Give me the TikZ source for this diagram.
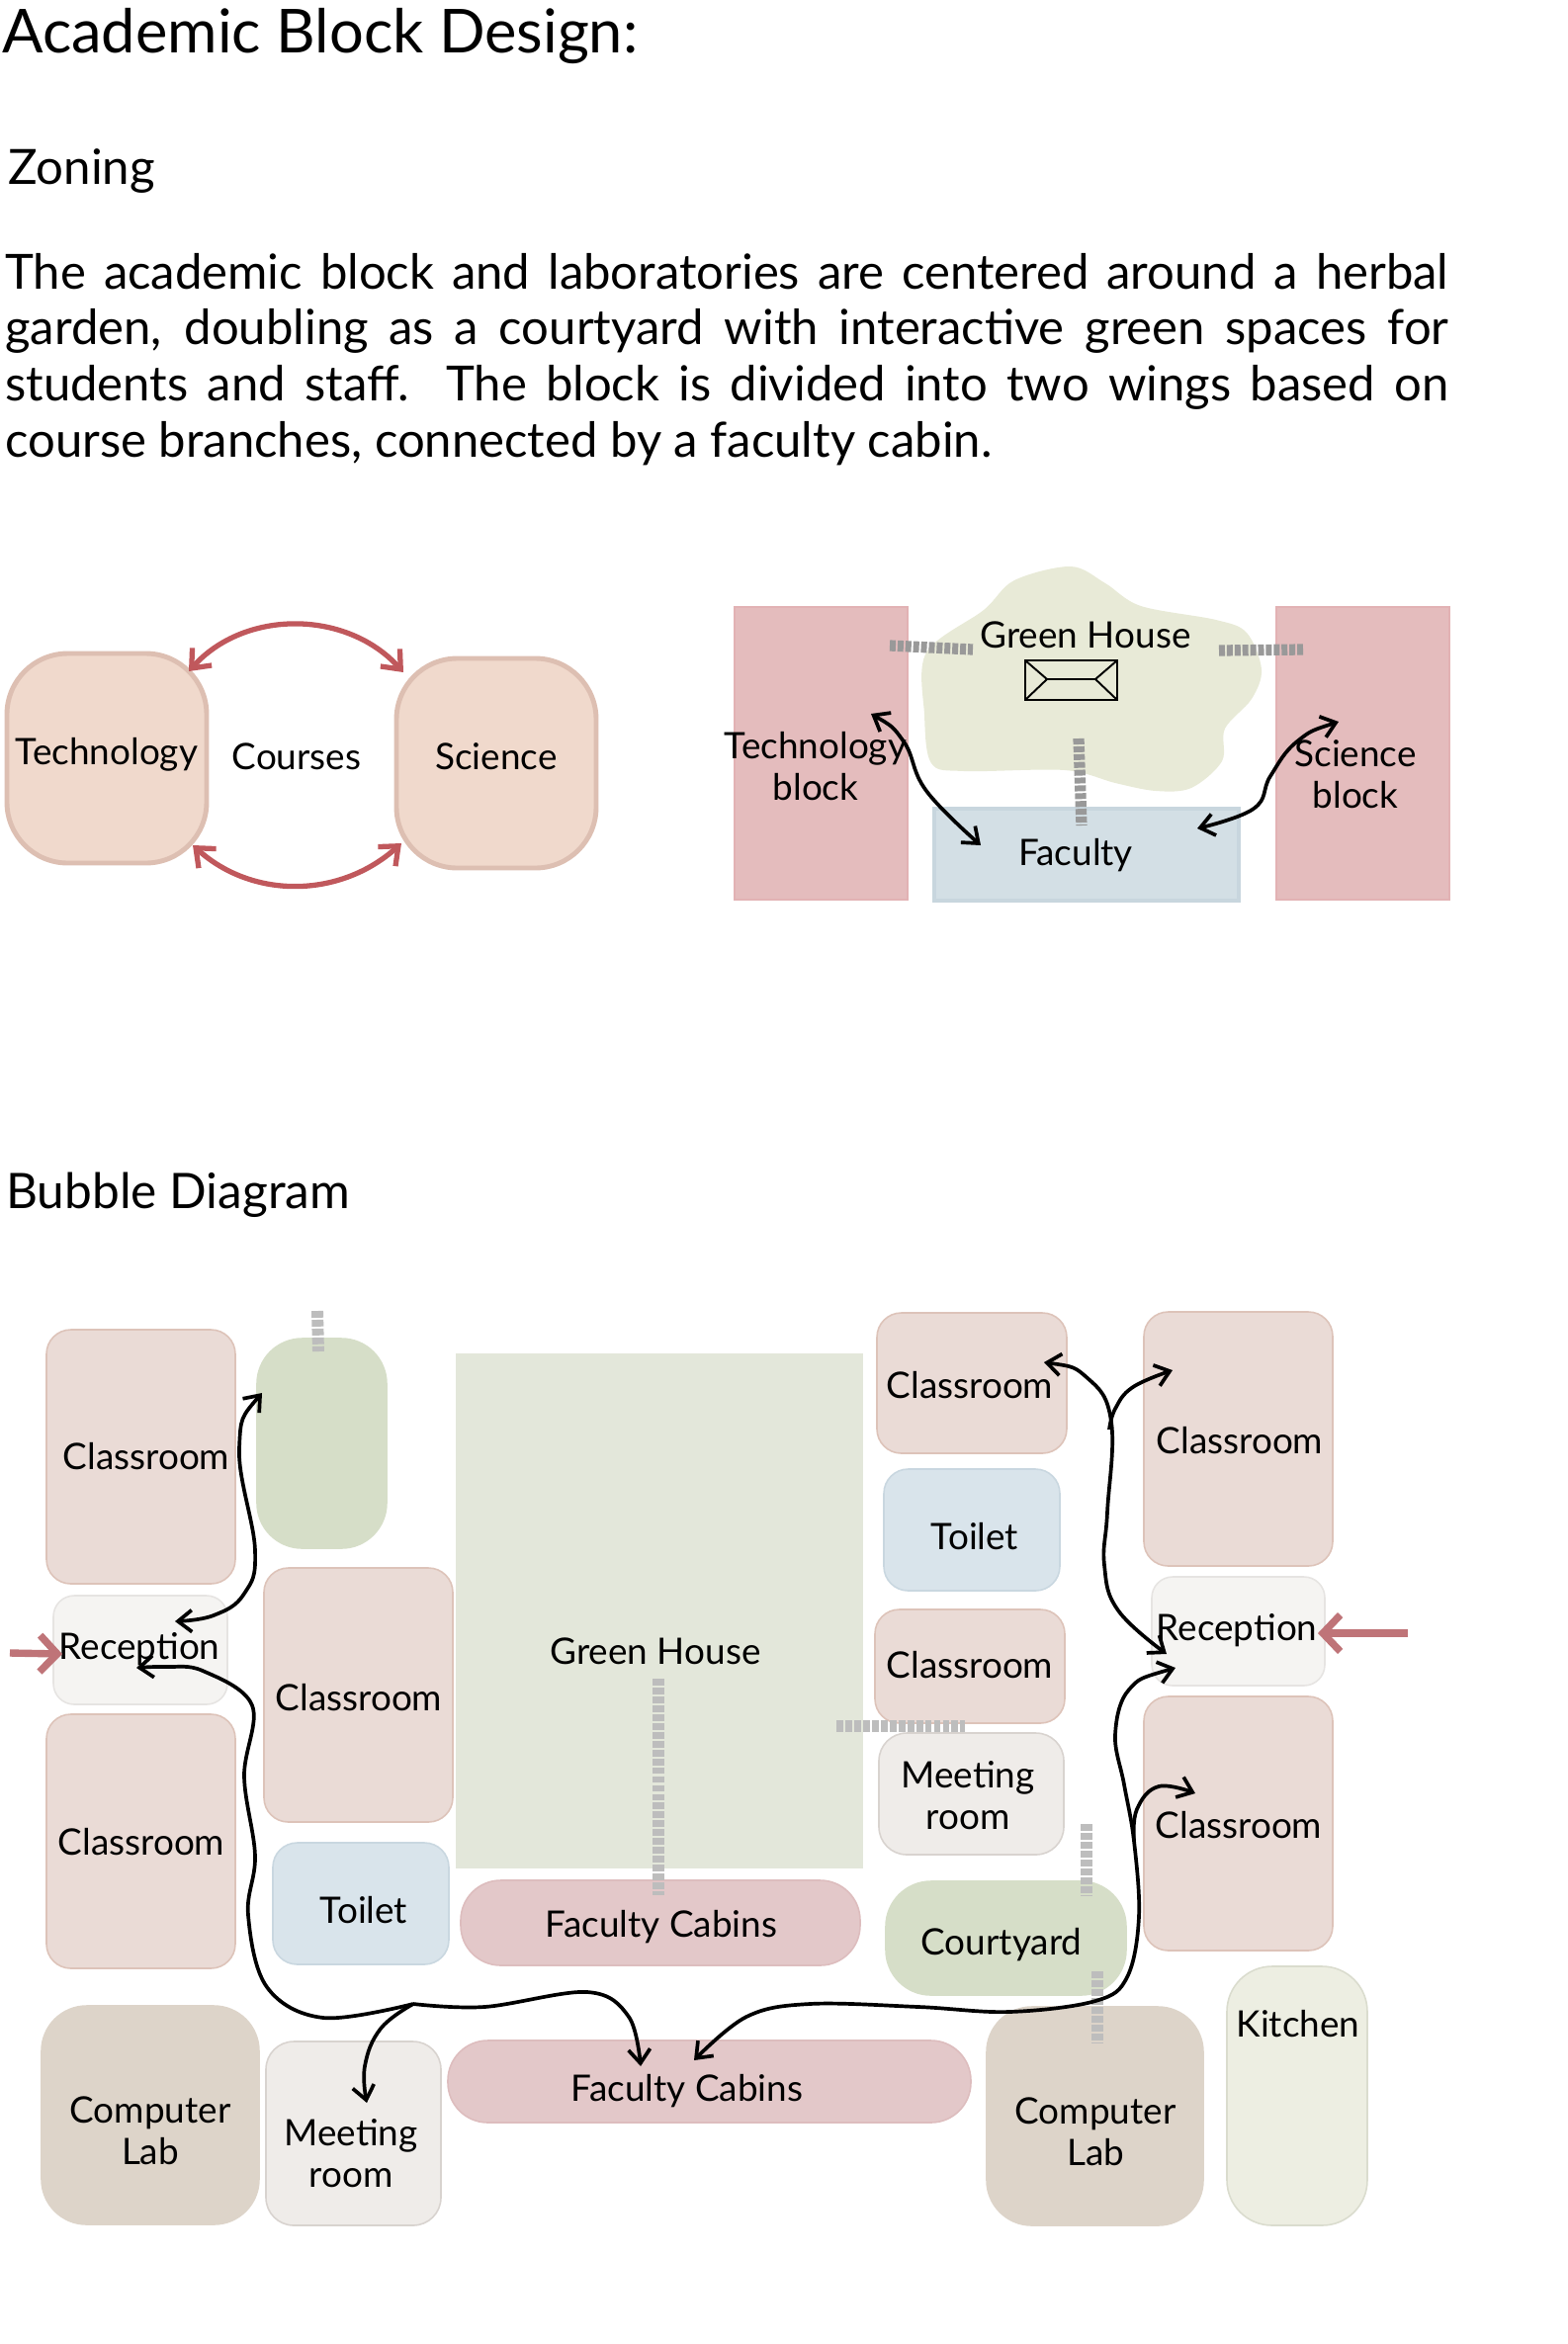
\documentclass[tikz,border=0pt]{standalone}
\usepackage{fontspec}
\setmainfont{Lato}
\usetikzlibrary{arrows.meta}
\definecolor{classfill}{HTML}{EADBD6}
\definecolor{classline}{HTML}{DDC3B9}
\definecolor{wingfill}{HTML}{F0D9CC}
\definecolor{wingline}{HTML}{DDBFB2}
\definecolor{blockfill}{HTML}{E4BCBD}
\definecolor{blockline}{HTML}{E2B2B4}
\definecolor{facfill}{HTML}{D3DFE5}
\definecolor{facline}{HTML}{C8D6DE}
\definecolor{toiletfill}{HTML}{D9E4EB}
\definecolor{toiletline}{HTML}{C9D7E0}
\definecolor{cabinfill}{HTML}{E3C8C9}
\definecolor{cabinline}{HTML}{DDBDBE}
\definecolor{labfill}{HTML}{DDD4C9}
\definecolor{meetfill}{HTML}{EFECE9}
\definecolor{meetline}{HTML}{D8D3CF}
\definecolor{kitchenfill}{HTML}{EDEEE2}
\definecolor{kitchenline}{HTML}{DADCCE}
\definecolor{recfill}{HTML}{F5F4F2}
\definecolor{recline}{HTML}{E6E4E2}
\definecolor{courtfill}{HTML}{D6DEC8}
\definecolor{housefill}{HTML}{E3E7DA}
\definecolor{blobfill}{HTML}{E8EAD7}
\definecolor{arcred}{HTML}{C0585C}
\definecolor{entryred}{HTML}{BF7478}
\tikzset{
  roombox/.style={inner sep=0pt,outer sep=0pt,line width=0.9pt},
  classbox/.style={roombox,fill=classfill,draw=classline,rounded corners=14pt},
  wingbox/.style={roombox,fill=wingfill,draw=wingline,line width=2.8pt,rounded corners=35pt},
  blockbox/.style={roombox,fill=blockfill,draw=blockline,line width=1.6pt},
  facbox/.style={roombox,fill=facfill,draw=facline,line width=2.4pt},
  toiletbox/.style={roombox,fill=toiletfill,draw=toiletline,rounded corners=14pt},
  cabinbox/.style={roombox,fill=cabinfill,draw=cabinline,rounded corners=23pt},
  labbox/.style={roombox,fill=labfill,draw=labfill,rounded corners=26pt},
  meetbox/.style={roombox,fill=meetfill,draw=meetline,rounded corners=16pt},
  kitchenbox/.style={roombox,fill=kitchenfill,draw=kitchenline,rounded corners=26pt},
  recbox/.style={roombox,fill=recfill,draw=recline,rounded corners=12pt},
  courtbox/.style={roombox,fill=courtfill,draw=courtfill,rounded corners=26pt},
  housebox/.style={roombox,fill=housefill,draw=housefill},
  roomtext/.style={font=\fontsize{21}{24}\selectfont,align=center,inner sep=0pt},
  headtext/.style={anchor=base west,inner sep=0pt},
  walkdark/.style={draw=black!40,line width=6.4pt,dash pattern=on 3.4pt off 1.1pt},
  walklight/.style={draw=black!26,line width=6.8pt,dash pattern=on 3.9pt off 1.2pt},
  wire/.style={line width=2.1pt,-{Straight Barb[length=8pt,width=12.5pt]}},
  wireboth/.style={line width=2.1pt,{Straight Barb[length=8pt,width=12.5pt]}-{Straight Barb[length=8pt,width=12.5pt]}},
  arcline/.style={draw=arcred,line width=3pt,{Straight Barb[length=9pt,width=15pt]}-{Straight Barb[length=9pt,width=15pt]}},
  entry/.style={draw=entryred,line width=4.2pt,-{Straight Barb[length=10pt,width=21pt]}}
}
\newcommand{\room}[9]{\node[#1,minimum width={(#5-#3)*0.02cm},minimum height={(#6-#4)*0.02cm}] (#2) at ({(#3+#5)/2},{(#4+#6)/2}) {};\node[roomtext] (#2txt) at (#7,#8) {#9};}
\newcommand{\link}[6]{\coordinate (#2a) at (#3,#4);\coordinate (#2b) at (#5,#6);\draw[#1] (#2a)--(#2b);}
\begin{document}
\begin{tikzpicture}[x=0.02cm,y=-0.02cm]
  \useasboundingbox (0,0) rectangle (1586,2371);
  \node[headtext,font=\fontsize{34.9}{40}\selectfont] (title) at (2,53) {Academic Block Design:};
  \node[headtext,font=\fontsize{28}{32}\selectfont] (zoning) at (8,186) {Zoning};
  \node[headtext,font=\fontsize{27.9}{32.4}\selectfont,text width=1460*0.02cm,align=justify] (intro) at (5,292) {The academic block and laboratories are centered around a herbal\linebreak garden, doubling as a courtyard with interactive green spaces for\linebreak students and staff. The block is divided into two wings based on\linebreak course branches, connected by a faculty cabin.};
  \node[headtext,font=\fontsize{28.2}{32}\selectfont] (bubble) at (6,1222) {Bubble Diagram};

  \room{wingbox}{tech}{7}{661}{209}{873}{108}{763}{Technology}
  \room{wingbox}{sci}{401}{666}{603}{878}{502}{765}{Science}
  \node[roomtext] (courses) at (300,765) {Courses};
  \coordinate (techup) at (191,679);
  \coordinate (sciup) at (408,680);
  \coordinate (techdn) at (195,855);
  \coordinate (scidn) at (406,853);
  \draw[arcline] (techup) to[out=48,in=132,looseness=1] (sciup);
  \draw[arcline] (techdn) to[out=-42,in=-138,looseness=1] (scidn);

  \room{blockbox}{techblock}{743}{614}{918}{910}{825}{775}{Technology\\block}
  \room{blockbox}{sciblock}{1291}{614}{1466}{910}{1371}{783}{Science\\block}
  \fill[blobfill] plot[smooth cycle,tension=0.55] coordinates {(1083,573) (1118,590) (1154,613) (1230,627) (1261,640) (1276,677) (1266,707) (1239,737) (1236,770) (1205,797) (1169,800) (1128,792) (1077,779) (975,780) (942,772) (935,723) (937,660) (995,617) (1026,587)};
  \room{facbox}{faculty}{945}{818}{1253}{911}{1088}{865}{Faculty}
  \node[roomtext] (house) at (1098,642) {Green House};
  \draw[line width=1.5pt] (1037,668) rectangle (1130,708);
  \draw[line width=1.1pt] (1037,668)--(1059,687)--(1037,708) (1059,687)--(1108,687) (1130,668)--(1108,687)--(1130,708);
  \link{walkdark}{wl}{900}{653}{984}{657}
  \link{walkdark}{wr}{1233}{658}{1318}{657}
  \link{walkdark}{wm}{1091}{747}{1094}{835}
  \coordinate (techin) at (881,722);
  \coordinate (facl) at (992,855);
  \coordinate (sciin) at (1354,730);
  \coordinate (facr) at (1211,838);
  \draw[wireboth] plot[smooth,tension=0.7] coordinates {(techin) (914,750) (937,800) (facl)};
  \draw[wireboth] plot[smooth,tension=0.7] coordinates {(sciin) (1312,750) (1285,785) (1268,818) (facr)};

  \room{classbox}{clsa}{47}{1345}{238}{1602}{148}{1473}{Classroom}
  \room{courtbox}{courta}{260}{1354}{391}{1566}{325}{1460}{}
  \room{classbox}{clsb}{267}{1586}{458}{1843}{363}{1717}{Classroom}
  \room{recbox}{recl}{54}{1614}{230}{1724}{141}{1668}{Reception}
  \room{classbox}{clsc}{47}{1734}{238}{1991}{143}{1863}{Classroom}
  \room{housebox}{houseb}{462}{1370}{872}{1889}{663}{1670}{Green House}
  \room{toiletbox}{toileta}{276}{1864}{454}{1987}{368}{1932}{Toilet}
  \room{cabinbox}{caba}{466}{1902}{870}{1988}{669}{1949}{Faculty Cabins}
  \room{cabinbox}{cabb}{453}{2064}{982}{2147}{695}{2115}{Faculty Cabins}
  \room{labbox}{laba}{42}{2029}{262}{2250}{152}{2155}{Computer\\Lab}
  \room{meetbox}{meeta}{269}{2065}{446}{2251}{355}{2178}{Meeting\\room}
  \room{classbox}{clsd}{887}{1328}{1079}{1470}{981}{1401}{Classroom}
  \room{toiletbox}{toiletb}{894}{1486}{1072}{1609}{986}{1554}{Toilet}
  \room{classbox}{clse}{885}{1628}{1077}{1743}{981}{1684}{Classroom}
  \room{meetbox}{meetb}{889}{1753}{1076}{1876}{979}{1816}{Meeting\\room}
  \room{courtbox}{courtb}{896}{1903}{1139}{2018}{1013}{1967}{Courtyard}
  \room{classbox}{clsf}{1157}{1327}{1348}{1584}{1254}{1457}{Classroom}
  \room{recbox}{recr}{1165}{1595}{1340}{1705}{1251}{1649}{Reception}
  \room{classbox}{clsg}{1157}{1716}{1348}{1973}{1253}{1846}{Classroom}
  \room{labbox}{labb}{998}{2030}{1217}{2251}{1108}{2156}{Computer\\Lab}
  \room{kitchenbox}{kitchen}{1241}{1989}{1383}{2251}{1313}{2047}{Kitchen}

  \link{walklight}{wa}{321}{1326}{322}{1367}
  \link{walklight}{wb}{666}{1698}{666}{1917}
  \link{walklight}{wc}{846}{1746}{976}{1746}
  \link{walklight}{wd}{1099}{1845}{1099}{1917}
  \link{walklight}{we}{1110}{1994}{1110}{2066}

  \coordinate (entryl) at (10,1672);
  \coordinate (entryin) at (63,1673);
  \coordinate (entryr) at (1424,1652);
  \coordinate (entryout) at (1333,1652);
  \draw[entry] (entryl)--(entryin);
  \draw[entry] (entryr)--(entryout);

  \coordinate (courtin) at (265,1409);
  \coordinate (recltop) at (177,1640);
  \coordinate (reclbot) at (138,1687);
  \coordinate (cabbl) at (648,2090);
  \coordinate (meetin) at (371,2127);
  \coordinate (forkl) at (418,2027);
  \coordinate (clsdin) at (1056,1378);
  \coordinate (clsfin) at (1186,1386);
  \coordinate (recrtop) at (1180,1673);
  \coordinate (recrbot) at (1189,1687);
  \coordinate (cabbr) at (702,2084);
  \coordinate (clsgin) at (1209,1814);
  \coordinate (forkr) at (1122,1446);
  \coordinate (forks) at (1147,1862);
  \draw[wireboth] plot[smooth,tension=0.7] coordinates {(courtin) (242,1465) (258,1568) (247,1612) (216,1634) (recltop)};
  \draw[wire] plot[smooth,tension=0.6] coordinates {(forkl) (490,2030) (594,2015) (636,2040) (cabbl)};
  \draw[wire] plot[smooth,tension=0.6] coordinates {(forkl) (327,2041) (270,2010) (251,1937) (258,1877) (247,1797) (255,1725) (205,1690) (168,1686) (reclbot)};
  \draw[wire] plot[smooth,tension=0.7] coordinates {(forkl) (385,2052) (369,2090) (meetin)};
  \draw[wireboth] plot[smooth,tension=0.7] coordinates {(clsdin) (1100,1394) (1124,1438) (1120,1530) (1117,1583) (1131,1629) (recrtop)};
  \draw[wire] plot[smooth,tension=0.7] coordinates {(forkr) (1128,1425) (1146,1403) (clsfin)};
  \draw[wireboth] plot[smooth,tension=0.6] coordinates {(recrbot) (1142,1709) (1128,1755) (1137,1805) (forks) (1152,1939) (1140,2000) (1108,2024) (1021,2035) (929,2030) (819,2027) (755,2040) (cabbr)};
  \draw[wire] plot[smooth,tension=0.7] coordinates {(forks) (1150,1830) (1172,1807) (clsgin)};
\end{tikzpicture}
\end{document}
